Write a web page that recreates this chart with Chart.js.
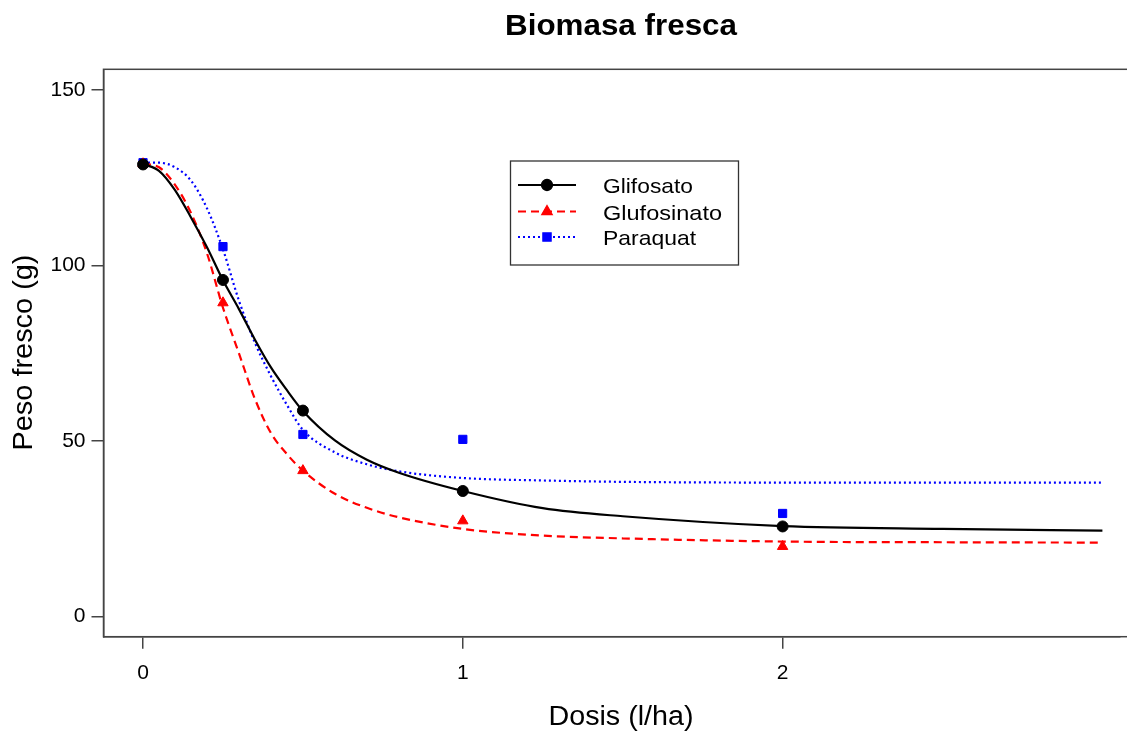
<!DOCTYPE html>
<html>
<head>
<meta charset="utf-8">
<title>Biomasa fresca</title>
<script src="https://cdn.jsdelivr.net/npm/chart.js@4.4.1/dist/chart.umd.min.js"></script>
<style>
  html, body { margin: 0; padding: 0; background: #fff; }
  #wrap { width: 1127px; height: 734px; position: relative; }
</style>
</head>
<body>
<div id="wrap"><canvas id="grafico"></canvas></div>
<script>
// ---------------------------------------------------------------
// Datos
// ---------------------------------------------------------------
const dosis = [0, 0.25, 0.5, 1, 2];
const glifosato = [128.8, 95.9, 58.7, 35.8, 25.7];
const glufosinato = [129.0, 89.4, 41.6, 27.3, 20.0];
const paraquat = [129.3, 105.4, 51.9, 50.5, 29.4];

// curvas ajustadas (valores leidos sobre la linea)
const dosisCurva = [0, 0.05, 0.1, 0.15, 0.2, 0.25, 0.3, 0.35, 0.4, 0.45, 0.5, 0.6, 0.7, 0.8, 1, 1.25, 1.5, 2, 2.5, 3];
const curvaGlifosato = [128.9, 127.0, 121.5, 113.7, 105.2, 95.8, 87.6, 78.9, 71.0, 64.5, 58.6, 50.2, 44.7, 41.0, 35.8, 30.9, 28.6, 25.8, 25.0, 24.5];
const curvaGlufosinato = [129.0, 128.0, 123.0, 115.0, 103.5, 88.0, 75.0, 62.0, 52.3, 46.3, 41.6, 35.0, 31.0, 28.3, 25.0, 23.1, 22.3, 21.4, 21.2, 21.1];
const curvaParaquat = [129.3, 129.3, 128.0, 124.2, 116.3, 104.6, 90.0, 78.0, 68.5, 60.3, 53.2, 46.8, 43.4, 41.4, 39.5, 38.8, 38.4, 38.2, 38.2, 38.2];

const ticksX = [0, 1, 2];
const ticksY = [0, 50, 100, 150];

const series = [
    { nombre: "Glifosato", puntos: glifosato, curva: curvaGlifosato, color: "#000000", punto: "circle", radio: 5.5, dash: [] },
    { nombre: "Glufosinato", puntos: glufosinato, curva: curvaGlufosinato, color: "#FF0000", punto: "triangle", radio: 6, dash: [8, 5] },
    { nombre: "Paraquat", puntos: paraquat, curva: curvaParaquat, color: "#0000FF", punto: "rect", radio: 5.8, dash: [2, 3] }
];

const FUENTE = "'Liberation Sans', Arial, Helvetica, sans-serif";

// ---------------------------------------------------------------
// Datasets
// ---------------------------------------------------------------
const datasets = [];
series.forEach(s => {
    datasets.push({
        label: s.nombre + " curva",
        data: dosisCurva.map((x, i) => ({ x: x, y: s.curva[i] })),
        showLine: true,
        borderColor: s.color,
        borderWidth: 2.2,
        borderDash: s.dash,
        pointRadius: 0,
        cubicInterpolationMode: "monotone",
        fill: false
    });
    datasets.push({
        label: s.nombre,
        data: dosis.map((x, i) => ({ x: x, y: s.puntos[i] })),
        showLine: false,
        pointStyle: s.punto,
        pointRadius: s.radio,
        pointBackgroundColor: s.color,
        pointBorderColor: s.color,
        pointBorderWidth: 1
    });
});

// texto con ancho fijo (las letras del original son algo mas anchas)
function texto(ctx, str, x, y, font, ancho, align) {
    ctx.save();
    ctx.font = font;
    const w = ctx.measureText(str).width;
    const k = ancho / w;
    ctx.translate(x, y);
    ctx.scale(k, 1);
    ctx.textAlign = align || "center";
    ctx.textBaseline = "alphabetic";
    ctx.fillText(str, 0, 0);
    ctx.restore();
}

// ---------------------------------------------------------------
// Plugin: marco, titulos y leyenda estilo R
// ---------------------------------------------------------------
const estiloR = {
    id: "estiloR",
    afterDraw(chart) {
        const ctx = chart.ctx;
        const a = chart.chartArea;
        ctx.save();

        // marco
        ctx.strokeStyle = "#444";
        ctx.lineWidth = 1.5;
        ctx.strokeRect(a.left, a.top, a.right - a.left + 30, a.bottom - a.top);

        // titulo
        ctx.fillStyle = "#000";
        texto(ctx, "Biomasa fresca", 621, 35, "bold 29px " + FUENTE, 232);

        // ejes
        texto(ctx, "Dosis (l/ha)", 621, 725, "27px " + FUENTE, 145);
        ctx.save();
        ctx.translate(32, 352.5);
        ctx.rotate(-Math.PI / 2);
        texto(ctx, "Peso fresco (g)", 0, 0, "27px " + FUENTE, 196);
        ctx.restore();

        // leyenda
        ctx.strokeStyle = "#333";
        ctx.lineWidth = 1.3;
        ctx.strokeRect(510.5, 161, 228, 104);
        const filas = [185, 211.5, 237];
        const anchos = [90, 119, 93];
        series.forEach((s, i) => {
            const y = filas[i];
            ctx.save();
            ctx.strokeStyle = s.color;
            ctx.lineWidth = 2;
            ctx.setLineDash(s.dash);
            ctx.beginPath();
            ctx.moveTo(518, y);
            ctx.lineTo(576, y);
            ctx.stroke();
            ctx.restore();
            ctx.fillStyle = s.color;
            ctx.strokeStyle = s.color;
            Chart.helpers.drawPoint(ctx, { pointStyle: s.punto, radius: s.radio, borderWidth: 1 }, 547, y);
            ctx.fillStyle = "#000";
            texto(ctx, s.nombre, 603, y + 8, "21px " + FUENTE, anchos[i], "left");
        });

        ctx.restore();
    }
};

// ---------------------------------------------------------------
// Grafico
// ---------------------------------------------------------------
new Chart(document.getElementById("grafico"), {
    type: "scatter",
    data: { datasets: datasets },
    options: {
        responsive: true,
        maintainAspectRatio: false,
        animation: false,
        layout: { padding: { top: 69.3, right: 0, left: 0, bottom: 0 } },
        plugins: {
            legend: { display: false },
            tooltip: { enabled: false },
            title: { display: false }
        },
        scales: {
            x: {
                type: "linear",
                min: -0.1236,
                max: 3.055,
                afterBuildTicks: s => { s.ticks = ticksX.map(v => ({ value: v })); },
                afterFit: s => { s.height = 97.3; },
                grid: { drawOnChartArea: false, drawTicks: true, tickLength: 12, color: "#444", lineWidth: 1.5 },
                border: { display: true, color: "#444", width: 1.5 },
                ticks: { color: "#000", font: { size: 21, family: FUENTE }, padding: 12, maxRotation: 0 }
            },
            y: {
                type: "linear",
                min: -5.7,
                max: 155.9,
                afterBuildTicks: s => { s.ticks = ticksY.map(v => ({ value: v })); },
                afterFit: s => { s.width = 103.5; },
                grid: { drawOnChartArea: false, drawTicks: true, tickLength: 12, color: "#444", lineWidth: 1.5 },
                border: { display: true, color: "#444", width: 1.5 },
                ticks: { color: "#000", font: { size: 21, family: FUENTE }, padding: 6 }
            }
        }
    },
    plugins: [estiloR]
});
</script>
</body>
</html>
